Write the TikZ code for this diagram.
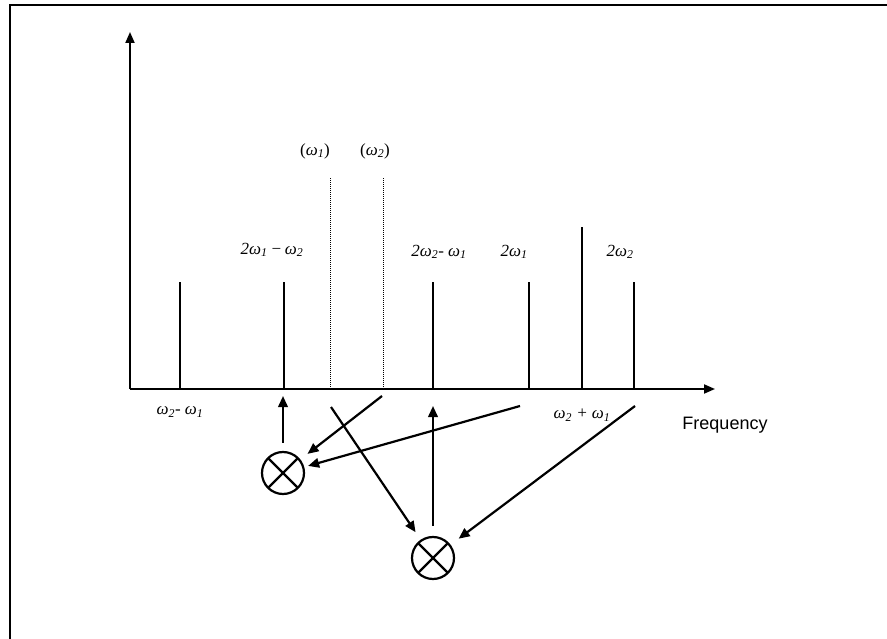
\documentclass[tikz,border=0pt]{standalone}
\usepackage{fontspec}
\setmainfont{Liberation Serif}
\newfontfamily\arialfont{Liberation Sans}
\usetikzlibrary{arrows.meta}
\newcommand{\om}[1]{\textit{ω\textsubscript{#1}}}
\tikzset{
  axis/.style={line width=2pt,-{Triangle[length=11pt,width=9pt]}},
  specline/.style={line width=2pt},
  dotline/.style={line width=1pt,dash pattern=on 1pt off 1pt},
  conn/.style={line width=2.2pt,-{Triangle[length=11pt,width=9.5pt]}},
  lbl/.style={font=\fontsize{17}{19}\selectfont,inner sep=0pt},
  mult/.style={circle,draw,line width=2.2pt,minimum size=42pt,inner sep=0pt,
    path picture={\draw[line width=2.2pt]
      (path picture bounding box.south west)--(path picture bounding box.north east)
      (path picture bounding box.north west)--(path picture bounding box.south east);}}
}
\begin{document}
\begin{tikzpicture}[x=1pt,y=-1pt]
\useasboundingbox (0,0) rectangle (887,639);
\coordinate (fr1) at (10,639);
\coordinate (fr2) at (10,5);
\coordinate (fr3) at (887,5);
\draw[line width=1.3pt] (fr1) -- (fr2) -- (fr3);
% axes
\coordinate (O) at (130,389);
\coordinate (ytop) at (130,32);
\coordinate (xend) at (715,389);
\draw[axis] (O) -- (ytop);
\draw[axis] (O) -- (xend);
% spectral lines
\foreach \n/\x/\t in {a/180/282,b/284/282,c/433/282,d/529/282,e/582/227,f/634/282}{
  \coordinate (\n0) at (\x,389);
  \coordinate (\n1) at (\x,\t);
  \draw[specline] (\n0) -- (\n1);
}
\coordinate (p0) at (330,389); \coordinate (p1) at (330,177);
\coordinate (q0) at (383,389); \coordinate (q1) at (383,177);
\draw[dotline] (p0) -- (p1);
\draw[dotline] (q0) -- (q1);
% labels
\node[lbl] (l1) at (315,151) {(\om{1})};
\node[lbl] (l2) at (375,151) {(\om{2})};
\node[lbl] (l3) at (272,250) {\textit{2}\om{1}\,\textit{−}\,\om{2}};
\node[lbl] (l4) at (439,252) {\textit{2}\om{2}\textit{- }\om{1}};
\node[lbl] (l5) at (514,252) {\textit{2}\om{1}};
\node[lbl] (l6) at (620,252) {\textit{2}\om{2}};
\node[lbl] (l7) at (180,412) {\om{2}\textit{- }\om{1}};
\node[lbl] (l8) at (582,415) {\om{2}\textit{ + }\om{1}};
\node[font=\arialfont\fontsize{18}{20}\selectfont,inner sep=0pt] (freq) at (725,425) {Frequency};
% multipliers
\node[mult] (m1) at (283,473) {};
\node[mult] (m2) at (433,558) {};
% connectors
\coordinate (s1) at (382,396);
\coordinate (s2) at (520,406);
\coordinate (s3) at (331,407);
\coordinate (s4) at (635,406);
\coordinate (t1) at (283,396);
\coordinate (t2) at (433,406);
\draw[conn] ([yshift=8pt]m1.north) -- (t1);
\draw[conn,shorten >=9pt] (s1) -- (m1);
\draw[conn,shorten >=4pt] (s2) -- (m1);
\draw[conn] ([yshift=10pt]m2.north) -- (t2);
\draw[conn,shorten >=9pt] (s3) -- (m2);
\draw[conn,shorten >=10pt] (s4) -- (m2);
\end{tikzpicture}
\end{document}
